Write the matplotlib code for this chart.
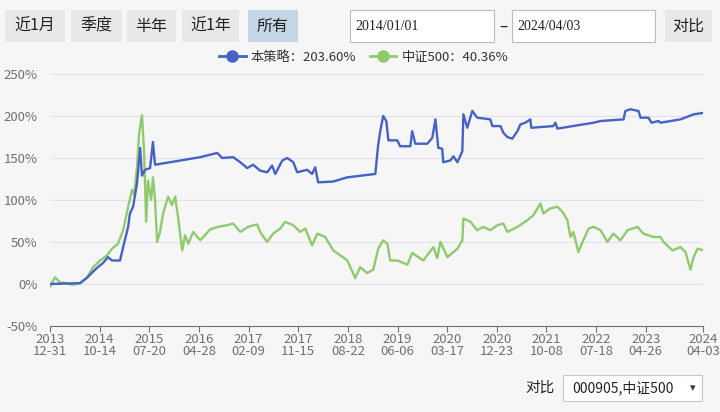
import matplotlib
matplotlib.use("Agg")
import matplotlib.pyplot as plt
from matplotlib.lines import Line2D
from matplotlib.patches import Rectangle

plt.rcParams["font.family"] = ["Noto Sans CJK SC", "DejaVu Sans"]

# trading-day index (0 = 2013-12-31) and cumulative return in %
strat_day = [0, 115, 140, 179, 203, 222, 237, 268, 280, 299, 306, 318, 333, 345, 352,
             364, 383, 394, 402, 460, 575, 640, 659, 701, 728, 755, 777, 804, 831, 850,
             862, 889, 908, 931, 946, 984, 1003, 1015, 1026, 1084, 1138, 1245, 1256, 1264,
             1275, 1287, 1295, 1329, 1340, 1379, 1386, 1398, 1444, 1463, 1475, 1486, 1501,
             1505, 1532, 1544, 1559, 1578, 1582, 1597, 1616, 1635, 1685, 1693, 1724, 1735,
             1750, 1769, 1789, 1800, 1819, 1838, 1842, 1926, 1934, 1942, 2080, 2107, 2195,
             2202, 2221, 2252, 2260, 2290, 2302, 2329, 2336, 2413, 2463, 2499]
strat_pct = [0, 1, 7, 19, 25, 32, 28, 28, 44, 68, 84, 92, 120, 162, 129,
             136, 138, 169, 142, 145, 151, 156, 150, 151, 145, 138, 142, 135, 133, 141,
             131, 147, 150, 145, 133, 136, 131, 139, 121, 122, 127, 131, 166, 182,
             200, 194, 171, 171, 164, 164, 182, 167, 167, 174, 196, 162, 161,
             145, 147, 152, 145, 158, 202, 186, 206, 198, 196, 188, 188, 180,
             175, 173, 182, 190, 192, 196, 186, 188, 192, 185, 192, 194, 196,
             206, 208, 206, 198, 198, 192, 194, 192, 196, 202, 203.6]

csi_day = [0, 19, 38, 65, 84, 115, 142, 165, 192, 218, 237, 260, 280, 299, 314, 322,
           333, 341, 352, 360, 368, 375, 387, 394, 402, 410, 421, 433, 452, 467, 479,
           490, 506, 517, 529, 548, 575, 613, 643, 678, 701, 728, 758, 793, 804, 831,
           854, 881, 900, 931, 958, 977, 1003, 1023, 1053, 1084, 1111, 1138, 1168, 1187,
           1214, 1237, 1256, 1275, 1291, 1302, 1329, 1352, 1368, 1386, 1429, 1467, 1482,
           1494, 1521, 1559, 1578, 1582, 1609, 1635, 1658, 1685, 1712, 1735, 1750, 1789,
           1827, 1850, 1877, 1888, 1915, 1942, 1961, 1980, 1992, 2003, 2022, 2038, 2061,
           2080, 2107, 2133, 2156, 2183, 2210, 2248, 2271, 2309, 2336, 2348, 2382, 2413,
           2432, 2451, 2463, 2478, 2499]
csi_pct = [-3, 8, 2, 1, -1, 1, 8, 20, 28, 34, 42, 48, 64, 92, 112, 106,
           139, 179, 201, 158, 74, 123, 100, 127, 100, 50, 62, 84, 104, 94, 104,
           80, 40, 58, 48, 62, 52, 65, 68, 70, 72, 62, 68, 71, 62, 50,
           60, 66, 74, 70, 62, 66, 46, 60, 56, 40, 34, 28, 7, 20,
           13, 17, 42, 52, 48, 28, 28, 25, 23, 37, 28, 44, 31,
           50, 32, 42, 52, 78, 74, 64, 68, 64, 70, 72, 62, 68,
           76, 82, 96, 84, 90, 92, 86, 76, 56, 62, 38, 50, 66,
           68, 64, 50, 60, 52, 64, 68, 60, 56, 56, 50, 40, 44,
           38, 17, 32, 42, 40.36]

tick_days = [0, 190, 380, 570, 760, 950, 1140, 1330, 1520, 1710, 1900, 2090, 2280, 2499]
tick_labels = ["2013\n12-31", "2014\n10-14", "2015\n07-20", "2016\n04-28", "2017\n02-09",
               "2017\n11-15", "2018\n08-22", "2019\n06-06", "2020\n03-17", "2020\n12-23",
               "2021\n10-08", "2022\n07-18", "2023\n04-26", "2024\n04-03"]
y_ticks = [-50, 0, 50, 100, 150, 200, 250]

buttons = ["近1月", "季度", "半年", "近1年", "所有"]
start_date = "2014/01/01"
end_date = "2024/04/03"

BLUE = "#4662c4"
GREEN = "#8fcb6e"
BG = "#f6f6f6"
W, H = 720, 412


def box(fig, x0, y0, x1, y1, **kw):
    # pixel box (top-left origin) -> figure fraction rectangle
    r = Rectangle((x0 / W, 1 - y1 / H), (x1 - x0) / W, (y1 - y0) / H,
                  transform=fig.transFigure, **kw)
    fig.add_artist(r)


def text(fig, x, y, s, **kw):
    fig.text(x / W, 1 - y / H, s, **kw)


fig = plt.figure(figsize=(7.2, 4.12), dpi=100, facecolor=BG)
ax = fig.add_axes([50 / W, 86 / H, 653 / W, 252 / H], facecolor=BG)

ax.plot(csi_day, csi_pct, color=GREEN, lw=1.7, solid_joinstyle="round")
ax.plot(strat_day, strat_pct, color=BLUE, lw=1.7, solid_joinstyle="round")

ax.set_xlim(0, 2499)
ax.set_ylim(-50, 250)
ax.set_yticks(y_ticks)
ax.set_yticklabels([f"{v}%" for v in y_ticks])
ax.set_xticks(tick_days)
ax.set_xticklabels(tick_labels, linespacing=0.95)
ax.grid(axis="y", color="#e0e3ea", lw=0.8)
ax.set_axisbelow(True)
for s in ["top", "right", "left"]:
    ax.spines[s].set_visible(False)
ax.spines["bottom"].set_color("#6e7079")
ax.tick_params(axis="y", length=0, labelsize=9.5, labelcolor="#6e7079", pad=9)
ax.tick_params(axis="x", length=4, color="#6e7079", labelsize=9.5,
               labelcolor="#6e7079", pad=1)

# top buttons
btn_x = [(5, 65), (71, 122), (127, 176), (182, 239), (248, 298)]
for (x0, x1), name in zip(btn_x, buttons):
    fc = "#c4d5e6" if name == "所有" else "#e8e8e8"
    box(fig, x0, 10, x1, 42, facecolor=fc, edgecolor="none")
    text(fig, (x0 + x1) / 2, 26, name, ha="center", va="center", fontsize=11.5,
         color="#222222")

box(fig, 350, 10, 494, 42, facecolor="white", edgecolor="#bdbdbd", lw=0.8)
box(fig, 512, 10, 655, 42, facecolor="white", edgecolor="#bdbdbd", lw=0.8)
text(fig, 355, 26, start_date, ha="left", va="center", fontsize=10,
     family="Liberation Serif", color="#222222")
text(fig, 517, 26, end_date, ha="left", va="center", fontsize=10,
     family="Liberation Serif", color="#222222")
text(fig, 503, 26, "–", ha="center", va="center", fontsize=11, color="#222222")
box(fig, 665, 10, 712, 42, facecolor="#e8e8e8", edgecolor="none")
text(fig, 688, 26, "对比", ha="center", va="center", fontsize=11.5, color="#222222")

# legend
handles = [Line2D([], [], color=BLUE, lw=2, marker="o", ms=8),
           Line2D([], [], color=GREEN, lw=2, marker="o", ms=8)]
labels = [f"本策略：{strat_pct[-1]:.2f}%", f"中证500：{csi_pct[-1]:.2f}%"]
fig.legend(handles, labels, loc="center", bbox_to_anchor=(0.505, 1 - 57 / H), ncol=2,
           frameon=False, fontsize=9.5, handlelength=2.0, handletextpad=0.4,
           columnspacing=1.0, labelcolor="#333333")

# bottom compare selector
text(fig, 540, 388, "对比", ha="center", va="center", fontsize=10.5, color="#222222")
box(fig, 563, 375, 702, 401, facecolor="white", edgecolor="#c8c8c8", lw=0.8)
text(fig, 572, 388, "000905,中证500", ha="left", va="center", fontsize=10,
     color="#222222")
text(fig, 693, 388, "▾", ha="center", va="center", fontsize=8, color="#333333")

fig.savefig("out.png", dpi=100, facecolor=BG)
